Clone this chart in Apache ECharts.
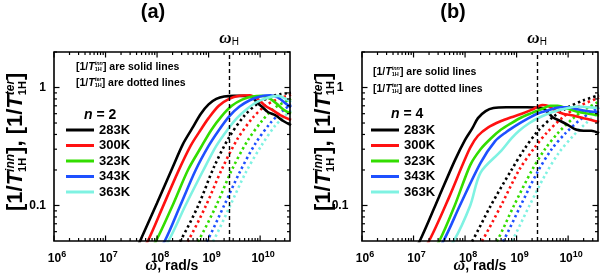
<!DOCTYPE html>
<html><head><meta charset="utf-8">
<script src="https://cdn.jsdelivr.net/npm/echarts@6/dist/echarts.min.js"></script>
<style>html,body{margin:0;padding:0;background:#fff}#c{width:600px;height:278px}</style>
</head><body><div id="c"></div>
<script>
// ---------------- data (omega in rad/s, relaxation rate values) ----------------
const temps = ['283K', '300K', '323K', '343K', '363K'];
const omegaH = 2.5e9;

// panel (a), n = 2 : solid = [1/T1H inn], dotted = [1/T1H ter]
const a283 = [[3.16e7,0.034],[4.68e7,0.05],[1e8,0.105],[2e8,0.21],[3.16e8,0.33],[4.79e8,0.45],[7.08e8,0.6],[1e9,0.72],[1.41e9,0.8],[2e9,0.84],[3.16e9,0.85],[5.01e9,0.85],[7.08e9,0.82],[8.91e9,0.74],[1.12e10,0.68],[1.41e10,0.62],[2e10,0.58],[2.82e10,0.52],[3.98e10,0.48]];
const a300 = [[3.98e7,0.035],[6.61e7,0.05],[1.26e8,0.095],[2.51e8,0.19],[4.47e8,0.32],[7.08e8,0.44],[1e9,0.55],[1.58e9,0.7],[2.51e9,0.8],[3.98e9,0.85],[6.31e9,0.86],[8.91e9,0.8],[1.26e10,0.7],[1.78e10,0.64],[2.51e10,0.58],[3.98e10,0.53]];
const a323 = [[5.62e7,0.035],[9.55e7,0.05],[2e8,0.1],[3.98e8,0.2],[7.08e8,0.31],[1.12e9,0.435],[1.78e9,0.57],[2.82e9,0.7],[4.47e9,0.79],[7.08e9,0.84],[1.12e10,0.85],[1.58e10,0.8],[2.24e10,0.71],[2.82e10,0.65],[3.98e10,0.6]];
const a343 = [[7.94e7,0.035],[1.41e8,0.05],[2.82e8,0.1],[5.62e8,0.2],[1e9,0.32],[1.58e9,0.435],[2.51e9,0.57],[3.98e9,0.69],[6.31e9,0.78],[1e10,0.84],[1.58e10,0.86],[2.24e10,0.82],[3.16e10,0.73],[3.98e10,0.68]];
const a363 = [[8.91e7,0.035],[1.66e8,0.05],[3.55e8,0.1],[7.94e8,0.2],[1.41e9,0.32],[2.29e9,0.435],[3.55e9,0.55],[5.62e9,0.66],[8.91e9,0.76],[1.41e10,0.82],[2.24e10,0.85],[3.16e10,0.8],[3.98e10,0.75]];
const a283d = [[1.58e8,0.035],[2.82e8,0.05],[6.31e8,0.1],[1.26e9,0.21],[2.51e9,0.38],[5.01e9,0.58],[8.91e9,0.73],[1.58e10,0.83],[2.51e10,0.88],[3.98e10,0.9]];
const a300d = [[2.24e8,0.035],[3.98e8,0.05],[8.91e8,0.1],[1.78e9,0.2],[3.55e9,0.36],[7.08e9,0.55],[1.26e10,0.7],[2.24e10,0.8],[3.98e10,0.87]];
const a323d = [[3.55e8,0.035],[6.31e8,0.05],[1.41e9,0.1],[2.82e9,0.2],[5.62e9,0.35],[1.12e10,0.53],[2e10,0.68],[3.98e10,0.8]];
const a343d = [[5.25e8,0.035],[9.33e8,0.05],[2e9,0.1],[3.98e9,0.19],[7.94e9,0.33],[1.58e10,0.5],[2.82e10,0.64],[3.98e10,0.72]];
const a363d = [[7.08e8,0.035],[1.23e9,0.05],[2.63e9,0.1],[5.25e9,0.19],[1.05e10,0.32],[2e10,0.48],[3.98e10,0.64]];

// panel (b), n = 4
const b283 = [[7.94e6,0.035],[1.32e7,0.05],[3.16e7,0.12],[6.31e7,0.24],[1e8,0.36],[1.38e8,0.45],[1.78e8,0.55],[2.51e8,0.63],[3.55e8,0.67],[6.31e8,0.68],[1.58e9,0.68],[3.16e9,0.67],[3.98e9,0.62],[5.01e9,0.56],[7.08e9,0.52],[1e10,0.48],[1.41e10,0.44],[2e10,0.43],[2.82e10,0.43],[3.98e10,0.41]];
const b300 = [[1.12e7,0.035],[2e7,0.05],[5.01e7,0.12],[8.91e7,0.22],[1.26e8,0.31],[1.78e8,0.39],[2.82e8,0.46],[5.01e8,0.52],[7.94e8,0.56],[1.26e9,0.6],[2e9,0.65],[3.16e9,0.71],[3.98e9,0.7],[5.62e9,0.64],[7.94e9,0.6],[1.26e10,0.58],[2e10,0.55],[2.82e10,0.53],[3.98e10,0.51]];
const b323 = [[1.78e7,0.035],[3.16e7,0.05],[6.31e7,0.1],[1.26e8,0.22],[2e8,0.3],[3.16e8,0.37],[5.01e8,0.44],[7.94e8,0.5],[1.26e9,0.56],[2e9,0.61],[3.16e9,0.66],[4.47e9,0.7],[6.31e9,0.7],[1e10,0.66],[1.58e10,0.62],[2.51e10,0.6],[3.98e10,0.58]];
const b343 = [[2.14e7,0.035],[3.8e7,0.05],[7.94e7,0.1],[2e8,0.23],[3.8e8,0.35],[6.31e8,0.42],[1e9,0.48],[1.58e9,0.54],[2.51e9,0.6],[3.98e9,0.64],[7.08e9,0.68],[1e10,0.68],[1.58e10,0.65],[2.51e10,0.63],[3.98e10,0.62]];
const b363 = [[3.16e7,0.035],[6.03e7,0.05],[1.26e8,0.1],[2e8,0.19],[5.01e8,0.29],[7.94e8,0.37],[1.12e9,0.43],[1.78e9,0.5],[2.82e9,0.56],[5.01e9,0.62],[1e10,0.67],[1.58e10,0.69],[2.51e10,0.68],[3.98e10,0.67]];
const b283d = [[7.94e7,0.035],[1.38e8,0.05],[3.16e8,0.1],[7.94e8,0.2],[1.41e9,0.3],[2.51e9,0.42],[5.01e9,0.56],[1e10,0.68],[2e10,0.78],[3.98e10,0.86]];
const b300d = [[1.26e8,0.035],[2.14e8,0.05],[5.01e8,0.1],[1.12e9,0.2],[2.24e9,0.31],[3.98e9,0.42],[7.94e9,0.56],[1.58e10,0.69],[3.98e10,0.82]];
const b323d = [[2.4e8,0.035],[4.17e8,0.05],[8.91e8,0.1],[2e9,0.2],[3.55e9,0.3],[6.31e9,0.41],[1.26e10,0.55],[2.24e10,0.66],[3.98e10,0.76]];
const b343d = [[3.16e8,0.035],[5.5e8,0.05],[1.2e9,0.1],[2.51e9,0.19],[4.79e9,0.3],[8.91e9,0.41],[1.78e10,0.54],[3.98e10,0.68]];
const b363d = [[4.79e8,0.035],[8.13e8,0.05],[1.78e9,0.1],[3.55e9,0.18],[6.61e9,0.28],[1.26e10,0.39],[2.24e10,0.5],[3.98e10,0.62]];

// axis ticks
const xMajorTicks = [1e6, 1e7, 1e8, 1e9, 1e10];
const xMinorTicks = [2e6,3e6,4e6,5e6,6e6,7e6,8e6,9e6, 2e7,3e7,4e7,5e7,6e7,7e7,8e7,9e7,
  2e8,3e8,4e8,5e8,6e8,7e8,8e8,9e8, 2e9,3e9,4e9,5e9,6e9,7e9,8e9,9e9, 2e10,3e10];
const yMajorTicks = [0.1, 1];
const yMinorTicks = [0.06,0.07,0.08,0.09, 0.2,0.3,0.4,0.5,0.6,0.7,0.8,0.9, 2];

// ---------------- styling ----------------
const colors = ['#000000', '#ff1111', '#33dd00', '#1e50ff', '#7ff2e2'];
const SANS = '"Liberation Sans", Arial, sans-serif';
const SERIF = '"Liberation Serif", "Times New Roman", serif';
const panels = [
  { solid: [a283, a300, a323, a343, a363], dotted: [a283d, a300d, a323d, a343d, a363d] },
  { solid: [b283, b300, b323, b343, b363], dotted: [b283d, b300d, b323d, b343d, b363d] }
];
const gridPos = [
  { left: 54, top: 52, width: 236, height: 189 },
  { left: 362, top: 52, width: 236, height: 189 }
];

const ctx2d = document.createElement('canvas').getContext('2d');
function tw(t, f) { ctx2d.font = f; return ctx2d.measureText(t).width; }
function txt(x, y, t, f) {
  return { type: 'text', x: x, y: y, silent: true,
    style: { text: t, font: f, fill: '#000', align: 'left', verticalAlign: 'middle', textAlign: 'left', textVerticalAlign: 'middle' } };
}
function richGroup(x, y, rot, segs) {
  let cx = 0; const kids = [];
  segs.forEach(s => {
    if (s.stack) {
      let w = 0;
      s.stack.forEach(t => { kids.push(txt(cx, t.dy, t.t, t.f)); w = Math.max(w, tw(t.t, t.f)); });
      cx += w;
    } else {
      kids.push(txt(cx, s.dy || 0, s.t, s.f)); cx += tw(s.t, s.f);
    }
  });
  return { type: 'group', x: x, y: y, rotation: rot, children: kids };
}

function isPow10(v) { const e = Math.round(Math.log10(v)); return Math.abs(v / Math.pow(10, e) - 1) < 1e-6 ? e : null; }

function xTick(params, api) {
  const cs = params.coordSys;
  const px = api.coord([api.value(0), 1])[0];
  const len = api.value(2) ? 5.5 : 3;
  const st = { stroke: '#000', lineWidth: 1.2 };
  return { type: 'group', children: [
    { type: 'line', shape: { x1: px, y1: cs.y + cs.height, x2: px, y2: cs.y + cs.height - len }, style: st },
    { type: 'line', shape: { x1: px, y1: cs.y, x2: px, y2: cs.y + len }, style: st }
  ]};
}
function yTick(params, api) {
  const cs = params.coordSys;
  const py = api.coord([1e8, api.value(1)])[1];
  const len = api.value(2) ? 5.5 : 3;
  const st = { stroke: '#000', lineWidth: 1.2 };
  return { type: 'group', children: [
    { type: 'line', shape: { x1: cs.x, y1: py, x2: cs.x + len, y2: py }, style: st },
    { type: 'line', shape: { x1: cs.x + cs.width, y1: py, x2: cs.x + cs.width - len, y2: py }, style: st }
  ]};
}

const series = [];
panels.forEach((p, pi) => {
  p.dotted.forEach((d, i) => {
    series.push({ type: 'line', name: temps[i] + ' ter', xAxisIndex: pi, yAxisIndex: pi, data: d,
      symbol: 'none', smooth: 0.3, color: colors[i], silent: true,
      lineStyle: { width: 2.6, color: colors[i], type: [2.4, 3] } });
  });
  p.solid.forEach((d, i) => {
    const s = { type: 'line', name: temps[i], xAxisIndex: pi, yAxisIndex: pi, data: d,
      symbol: 'none', smooth: 0.3, color: colors[i], silent: true,
      lineStyle: { width: 2.6, color: colors[i] } };
    if (i === 0) {
      s.markLine = { silent: true, symbol: 'none', animation: false,
        lineStyle: { type: [4, 3], color: '#000', width: 1.4 },
        label: { show: true, position: 'end', distance: 5, formatter: '{w|ω}{h|H}',
          rich: { w: { fontFamily: SERIF, fontStyle: 'italic', fontWeight: 'bold', fontSize: 17, color: '#000', verticalAlign: 'bottom' },
                  h: { fontFamily: SANS, fontSize: 10, color: '#000', verticalAlign: 'bottom', padding: [0, 0, 0, 0] } } },
        data: [{ xAxis: omegaH }] };
    }
    series.push(s);
  });
  series.push({ type: 'custom', xAxisIndex: pi, yAxisIndex: pi, silent: true, z: 10, renderItem: xTick,
    data: xMajorTicks.map(v => [v, 1, 1]).concat(xMinorTicks.map(v => [v, 1, 0])) });
  series.push({ type: 'custom', xAxisIndex: pi, yAxisIndex: pi, silent: true, z: 10, renderItem: yTick,
    data: yMajorTicks.map(v => [1e8, v, 1]).concat(yMinorTicks.map(v => [1e8, v, 0])) });
});

const xAxes = [0, 1].map(pi => ({
  type: 'log', logBase: 10, gridIndex: pi, min: 1e6, max: 3.8e10,
  axisLine: { show: false }, axisTick: { show: false }, splitLine: { show: false },
  axisLabel: { margin: 9, formatter: v => { const e = isPow10(v); return e === null ? '' : '{p|}{b|10}{s|' + e + '}'; },
    rich: { p: { width: 6 }, b: { fontFamily: SANS, fontSize: 12, fontWeight: 'bold', color: '#000', verticalAlign: 'bottom' },
            s: { fontFamily: SANS, fontSize: 9, fontWeight: 'bold', color: '#000', verticalAlign: 'top', padding: [0, 0, 6, 0] } } },
  name: '{w|ω}{t|, rad/s}', nameLocation: 'middle', nameGap: 17, nameMoveOverlap: false,
  nameTextStyle: { rich: { w: { fontFamily: SERIF, fontStyle: 'italic', fontWeight: 'bold', fontSize: 16, color: '#000' },
                           t: { fontFamily: SANS, fontWeight: 'bold', fontSize: 14, color: '#000' } } }
}));
const yAxes = [0, 1].map(pi => ({
  type: 'log', logBase: 10, gridIndex: pi, min: 0.05, max: 2,
  axisLine: { show: false }, axisTick: { show: false }, splitLine: { show: false },
  axisLabel: { margin: pi === 0 ? 8 : 22, align: pi === 0 ? 'right' : 'center',
    fontFamily: SANS, fontSize: 12, fontWeight: 'bold', color: '#000',
    formatter: v => Math.abs(v - 1) < 1e-6 ? '1' : (Math.abs(v - 0.1) < 1e-7 ? '0.1' : '') }
}));

// text graphics
const F = s => 'bold ' + s + 'px ' + SANS;
const FI = s => 'italic bold ' + s + 'px ' + SANS;
function yName(x) {
  return richGroup(x, 211, Math.PI / 2, [
    { t: '[1/', f: F(22) }, { t: 'T', f: FI(22) },
    { stack: [{ t: 'inn', f: FI(12), dy: -5 }, { t: '1H', f: F(11), dy: 7 }] },
    { t: '], [1/', f: F(22) }, { t: 'T', f: FI(22) },
    { stack: [{ t: 'ter', f: FI(12), dy: -5 }, { t: '1H', f: F(11), dy: 7 }] },
    { t: ']', f: F(22) }
  ]);
}
function noteLine(x, y, sup, rest) {
  return richGroup(x, y, 0, [
    { t: '[1/', f: F(10.5) }, { t: 'T', f: FI(10.5) },
    { stack: [{ t: sup, f: FI(5.5), dy: -3.5 }, { t: '1H', f: F(5.5), dy: 2.5 }] },
    { t: rest, f: F(10.5) }
  ]);
}
function nLabel(x, y, n) {
  return richGroup(x, y, 0, [{ t: 'n', f: FI(14) }, { t: ' = ' + n, f: F(14) }]);
}
const graphic = [
  { type: 'text', x: 153, y: 12, silent: true, style: { text: '(a)', font: F(20), fill: '#000', align: 'center', verticalAlign: 'middle', textAlign: 'center', textVerticalAlign: 'middle' } },
  { type: 'text', x: 453, y: 12, silent: true, style: { text: '(b)', font: F(20), fill: '#000', align: 'center', verticalAlign: 'middle', textAlign: 'center', textVerticalAlign: 'middle' } },
  yName(16), yName(324),
  noteLine(76, 67, 'inn', '] are solid lines'), noteLine(76, 83, 'ter', '] are dotted lines'),
  noteLine(373, 72, 'inn', '] are solid lines'), noteLine(373, 89, 'ter', '] are dotted lines'),
  nLabel(84, 115, 2), nLabel(391, 114, 4)
];

const legendBase = { data: temps, orient: 'vertical', icon: 'rect', itemWidth: 28, itemHeight: 3, itemGap: 2.5,
  padding: 0, selectedMode: false, textStyle: { fontFamily: SANS, fontSize: 13, fontWeight: 'bold', color: '#000' } };

const chart = echarts.init(document.getElementById('c'), null, { renderer: 'canvas' });
chart.setOption({
  animation: false,
  backgroundColor: '#fff',
  grid: gridPos.map(g => Object.assign({ show: true, borderColor: '#000', borderWidth: 1.6, backgroundColor: 'transparent', z: 5,
    containLabel: false, outerBoundsMode: 'none' }, g)),
  xAxis: xAxes,
  yAxis: yAxes,
  legend: [Object.assign({ left: 66, top: 123.5 }, legendBase), Object.assign({ left: 371, top: 123.5 }, legendBase)],
  graphic: graphic,
  series: series
});
</script></body></html>
